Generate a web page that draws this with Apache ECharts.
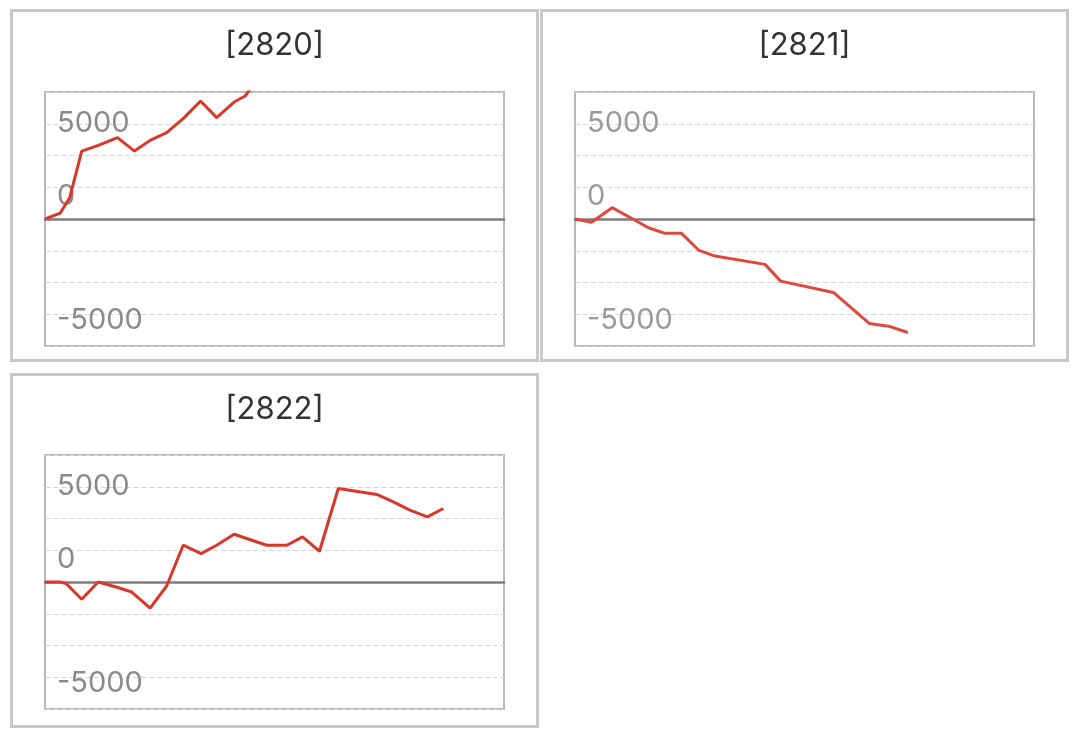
<!DOCTYPE html>
<html>
<head>
<meta charset="utf-8">
<script src="https://cdn.jsdelivr.net/npm/echarts@6/dist/echarts.min.js"></script>
<style>
html,body{margin:0;padding:0;background:#fff;}
#c{width:1076px;height:736px;}
</style>
</head>
<body>
<div id="c"></div>
<script>
// ---- data ----
const titles = ['[2820]', '[2821]', '[2822]'];
// x positions (day index) and cumulative values per panel
const x2820 = [0, 3.3, 5.4, 8.0, 11.6, 15.8, 19.5, 22.9, 26.5, 30.1, 33.9, 37.4, 41.2, 43.6, 45.6, 48.5];
const v2820 = [0, 305, 1130, 3565, 3864, 4269, 3565, 4127, 4532, 5268, 6194, 5321, 6141, 6457, 7100, 7700];
const x2821 = [0, 3.6, 8.1, 16.0, 19.6, 23.2, 26.9, 30.5, 41.4, 44.8, 56.3, 64.1, 68.3, 72.5];
const v2821 = [0, -174, 594, -457, -752, -752, -1630, -1945, -2382, -3260, -3854, -5484, -5626, -5957];
const x2822 = [0, 3.3, 4.6, 8.0, 11.6, 15.5, 18.9, 22.9, 26.5, 30.1, 34.0, 37.4, 41.2, 48.3, 52.7, 56.1, 59.8, 63.9, 72.3, 75.9, 79.5, 83.3, 86.8];
const v2822 = [0, 0, -84, -909, 0, -263, -526, -1367, -210, 1930, 1493, 1930, 2508, 1930, 1930, 2366, 1614, 4911, 4596, 4206, 3769, 3417, 3859];
const yTickLabels = [5000, 0, -5000];
const yStep = 5000 / 3;

const seriesX = [x2820, x2821, x2822];
const seriesV = [v2820, v2821, v2822];
const lineColors = ['#d8382a', '#df493d', '#d8382a'];

// ---- layout ----
const panels = [
  {x: 10, y: 9, w: 529, h: 353},
  {x: 540, y: 9, w: 529, h: 353},
  {x: 10, y: 373, w: 529, h: 355}
];
const grids = [
  {left: 45, top: 92, width: 459, height: 254},
  {left: 575, top: 92, width: 459, height: 254},
  {left: 45, top: 455, width: 459, height: 254}
];

const chart = echarts.init(document.getElementById('c'));

function fmt(v) {
  for (const t of yTickLabels) {
    if (Math.abs(v - t) < 1) {
      if (t === 0) return '{z|0}';
      if (t < 0) return '{m|' + t + '}';
      return '{n|' + t + '}';
    }
  }
  return '';
}

const labelFont = 'Inter';
const labelSize = 29;
function richFor(i) {
  const c = i === 1 ? '#9a9a9a' : '#8a8a8a';
  return {
    n: {fontFamily: labelFont, fontSize: labelSize, color: c, padding: [0, 0, 1, 0]},
    z: {fontFamily: labelFont, fontSize: labelSize, color: c, padding: [0, 0, 46, 0]},
    m: {fontFamily: labelFont, fontSize: labelSize, color: c, padding: [13, 0, 0, 0]}
  };
}

const option = {
  animation: false,
  backgroundColor: '#fff',
  title: panels.map((p, i) => ({
    text: titles[i],
    left: p.x + p.w / 2 - 5,
    top: p.y + 16,
    textAlign: 'center',
    textStyle: {fontFamily: 'Inter', fontSize: 31, fontWeight: 'normal', color: '#333'}
  })),
  graphic: panels.map(p => ({
    type: 'rect',
    shape: {x: p.x + 1.5, y: p.y + 1.5, width: p.w - 3, height: p.h - 3},
    style: {fill: 'none', stroke: '#c8c8c8', lineWidth: 3},
    silent: true
  })),
  grid: grids.map(g => Object.assign({show: true, borderColor: '#b8b8b8', borderWidth: 2, backgroundColor: 'transparent'}, g)),
  xAxis: grids.map((g, i) => ({
    type: 'value', gridIndex: i, min: 0, max: 100,
    axisLine: {show: true, onZero: true, lineStyle: {color: '#7d7d7d', width: 2.5}},
    axisTick: {show: false}, axisLabel: {show: false}, splitLine: {show: false}
  })),
  yAxis: grids.map((g, i) => ({
    type: 'value', gridIndex: i, min: -4 * yStep, max: 4 * yStep, interval: yStep,
    axisLine: {show: false}, axisTick: {show: false},
    splitLine: {show: true, lineStyle: {color: '#d6d6d6', type: [5, 3], width: 1}},
    axisLabel: {
      inside: true, margin: 12, formatter: fmt,
      color: i === 1 ? '#9a9a9a' : '#8a8a8a',
      fontFamily: labelFont, fontSize: labelSize,
      rich: richFor(i)
    }
  })),
  series: seriesX.map((xs, i) => ({
    type: 'line', xAxisIndex: i, yAxisIndex: i,
    data: xs.map((x, k) => [x, seriesV[i][k]]),
    showSymbol: false, symbol: 'none', clip: true,
    lineStyle: {color: lineColors[i], width: 3},
    z: 3
  }))
};
chart.setOption(option);
</script>
</body>
</html>
